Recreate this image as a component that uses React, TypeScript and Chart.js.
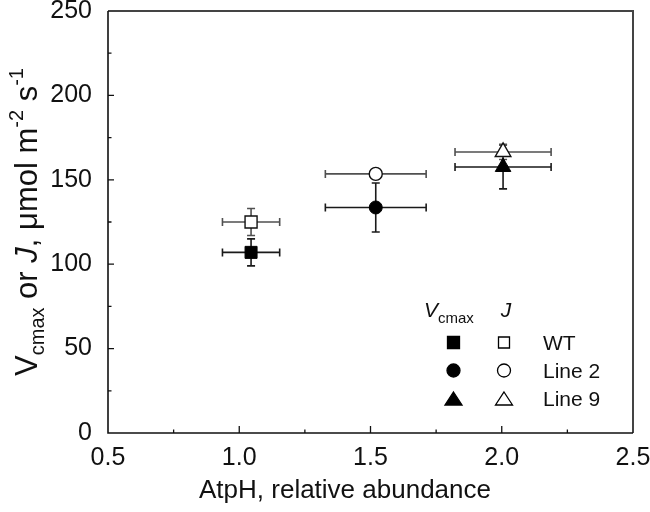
import React, { useEffect, useRef } from 'react';
import { Chart, registerables } from 'chart.js';

Chart.register(...registerables);

// ---- Data ----
const lineNames = ['WT', 'Line 2', 'Line 9'];
const atph = [1.045, 1.52, 2.005];
const atphErr = [0.109, 0.192, 0.183];
const vcmax = [107, 133.6, 157.6];
const vcmaxErr = [8, 14.5, 13];
const jRate = [125, 153.5, 166.5];
const jErr = [8, 3, 4.5];
const markerStyles = ['rect', 'circle', 'triangle'];
const markerRadii = [8.5, 6.5, 9];
const xMajorTicks = [0.5, 1.0, 1.5, 2.0, 2.5];
const yMajorTicks = [0, 50, 100, 150, 200, 250];

const FONT = '"Liberation Sans", Arial, sans-serif';

type Seg = { t: string; size: number; italic?: boolean; dy?: number };

function drawRich(ctx: CanvasRenderingContext2D, segs: Seg[], x: number, y: number, align: 'left' | 'center') {
  let total = 0;
  const widths = segs.map((s) => {
    ctx.font = `${s.italic ? 'italic ' : ''}${s.size}px ${FONT}`;
    const w = ctx.measureText(s.t).width;
    total += w;
    return w;
  });
  let cx = align === 'center' ? x - total / 2 : x;
  ctx.textBaseline = 'alphabetic';
  ctx.textAlign = 'left';
  segs.forEach((s, i) => {
    ctx.font = `${s.italic ? 'italic ' : ''}${s.size}px ${FONT}`;
    ctx.fillText(s.t, cx, y + (s.dy || 0));
    cx += widths[i];
  });
}

function drawMarker(ctx: CanvasRenderingContext2D, style: string, x: number, y: number, filled: boolean) {
  ctx.beginPath();
  if (style === 'rect') {
    const h = filled ? 6 : 5.5;
    ctx.rect(x - h, y - h, 2 * h, 2 * h);
  } else if (style === 'circle') {
    ctx.arc(x, y, 6.5, 0, Math.PI * 2);
  } else {
    ctx.moveTo(x, y - 6.5);
    ctx.lineTo(x + 8.5, y + 6.5);
    ctx.lineTo(x - 8.5, y + 6.5);
    ctx.closePath();
  }
  ctx.fillStyle = filled ? '#000' : '#fff';
  ctx.fill();
  ctx.lineWidth = 1.3;
  ctx.strokeStyle = '#000';
  ctx.stroke();
}

const errorBarPlugin = {
  id: 'errorBars',
  beforeDatasetsDraw(chart: any) {
    const ctx = chart.ctx as CanvasRenderingContext2D;
    const xs = chart.scales.x;
    const ys = chart.scales.y;
    const sets = [
      { y: vcmax, ye: vcmaxErr, color: '#1a1a1a' },
      { y: jRate, ye: jErr, color: '#505050' },
    ];
    sets.forEach((s) => {
      atph.forEach((xv, i) => {
        const px = xs.getPixelForValue(xv);
        const py = ys.getPixelForValue(s.y[i]);
        const x0 = xs.getPixelForValue(xv - atphErr[i]);
        const x1 = xs.getPixelForValue(xv + atphErr[i]);
        const y0 = ys.getPixelForValue(s.y[i] - s.ye[i]);
        const y1 = ys.getPixelForValue(s.y[i] + s.ye[i]);
        ctx.save();
        ctx.strokeStyle = s.color;
        ctx.lineWidth = 1.6;
        ctx.beginPath();
        ctx.moveTo(x0, py); ctx.lineTo(x1, py);
        ctx.moveTo(x0, py - 4); ctx.lineTo(x0, py + 4);
        ctx.moveTo(x1, py - 4); ctx.lineTo(x1, py + 4);
        ctx.moveTo(px, y0); ctx.lineTo(px, y1);
        ctx.moveTo(px - 4, y0); ctx.lineTo(px + 4, y0);
        ctx.moveTo(px - 4, y1); ctx.lineTo(px + 4, y1);
        ctx.stroke();
        ctx.restore();
      });
    });
  },
};

const framePlugin = {
  id: 'frameTicks',
  beforeDatasetsDraw(chart: any) {
    const ctx = chart.ctx as CanvasRenderingContext2D;
    const { left, right, top, bottom } = chart.chartArea;
    const xs = chart.scales.x;
    const ys = chart.scales.y;
    ctx.save();
    ctx.strokeStyle = '#444';
    ctx.lineWidth = 2;
    ctx.beginPath();
    ctx.moveTo(left, top); ctx.lineTo(right, top); ctx.lineTo(right, bottom);
    ctx.stroke();
    ctx.strokeStyle = '#111';
    ctx.lineWidth = 1.6;
    ctx.beginPath();
    ctx.moveTo(left, top); ctx.lineTo(left, bottom); ctx.lineTo(right, bottom);
    ctx.stroke();
    ctx.lineWidth = 1.3;
    ctx.beginPath();
    ys.ticks.forEach((t: any) => {
      const p = ys.getPixelForValue(t.value);
      const major = yMajorTicks.includes(t.value);
      if (t.value <= 0 || t.value >= 250) return;
      ctx.moveTo(left, p); ctx.lineTo(left + (major ? 6 : 3.5), p);
    });
    xs.ticks.forEach((t: any) => {
      const p = xs.getPixelForValue(t.value);
      const major = xMajorTicks.some((m) => Math.abs(m - t.value) < 1e-9);
      if (t.value <= 0.5 || t.value >= 2.5) return;
      ctx.moveTo(p, bottom); ctx.lineTo(p, bottom - (major ? 7 : 3.5));
    });
    ctx.stroke();
    ctx.restore();
  },
};

const annotationPlugin = {
  id: 'titlesLegend',
  afterDraw(chart: any) {
    const ctx = chart.ctx as CanvasRenderingContext2D;
    const { top, bottom } = chart.chartArea;
    ctx.save();
    ctx.fillStyle = '#111';
    // x-axis title
    drawRich(ctx, [{ t: 'AtpH, relative abundance', size: 26 }], 345, 498, 'center');
    // y-axis title
    ctx.save();
    ctx.translate(37, (top + bottom) / 2);
    ctx.rotate(-Math.PI / 2);
    drawRich(
      ctx,
      [
        { t: 'V', size: 31 },
        { t: 'cmax', size: 20, dy: 7 },
        { t: ' or ', size: 31 },
        { t: 'J', size: 31, italic: true },
        { t: ', μmol m', size: 31 },
        { t: '-2', size: 20, dy: -14 },
        { t: ' s', size: 31 },
        { t: '-1', size: 20, dy: -14 },
      ],
      0,
      0,
      'center'
    );
    ctx.restore();

    // legend
    ctx.fillStyle = '#111';
    drawRich(ctx, [{ t: 'V', size: 21, italic: true }, { t: 'cmax', size: 15, dy: 6 }], 424, 317, 'left');
    drawRich(ctx, [{ t: 'J', size: 21, italic: true }], 506, 317, 'center');
    const rowY = [342.5, 370.5, 398.5];
    lineNames.forEach((name, i) => {
      drawMarker(ctx, markerStyles[i], 453.5, rowY[i], true);
      drawMarker(ctx, markerStyles[i], 504, rowY[i], false);
      ctx.fillStyle = '#111';
      drawRich(ctx, [{ t: name, size: 21 }], 543, rowY[i] + 7.5, 'left');
    });
    ctx.restore();
  },
};

export default function App() {
  const ref = useRef<HTMLCanvasElement>(null);
  useEffect(() => {
    const canvas = ref.current!;
    const chart = new Chart(canvas, {
      type: 'scatter',
      data: {
        datasets: [
          {
            label: 'Vcmax',
            data: atph.map((x, i) => ({ x, y: vcmax[i] })),
            pointStyle: markerStyles as any,
            pointRadius: markerRadii,
            pointBackgroundColor: '#000',
            pointBorderColor: '#000',
            pointBorderWidth: 1,
          },
          {
            label: 'J',
            data: atph.map((x, i) => ({ x, y: jRate[i] })),
            pointStyle: markerStyles as any,
            pointRadius: markerRadii,
            pointBackgroundColor: '#fff',
            pointBorderColor: '#111',
            pointBorderWidth: 1.4,
          },
        ],
      },
      options: {
        responsive: false,
        animation: false,
        devicePixelRatio: 1,
        layout: { padding: { left: 0, top: 11, right: 17, bottom: 0 } },
        plugins: { legend: { display: false }, tooltip: { enabled: false } },
        scales: {
          x: {
            type: 'linear',
            min: 0.5,
            max: 2.5,
            border: { display: false },
            grid: { display: false, drawTicks: false },
            ticks: {
              stepSize: 0.25,
              autoSkip: false,
              maxRotation: 0,
              padding: 10,
              color: '#111',
              font: { family: FONT, size: 25 },
              callback: (v: any) =>
                xMajorTicks.some((m) => Math.abs(m - Number(v)) < 1e-9) ? Number(v).toFixed(1) : '',
            },
            afterFit: (s: any) => {
              s.height = 79;
              s.paddingLeft = 0;
              s.paddingRight = 0;
            },
          },
          y: {
            type: 'linear',
            min: 0,
            max: 250,
            border: { display: false },
            grid: { display: false, drawTicks: false },
            ticks: {
              stepSize: 25,
              autoSkip: false,
              padding: 16,
              color: '#111',
              font: { family: FONT, size: 25 },
              callback: (v: any) => (yMajorTicks.includes(Number(v)) ? String(v) : ''),
            },
            afterFit: (s: any) => {
              s.width = 108;
              s.paddingTop = 0;
              s.paddingBottom = 0;
            },
          },
        },
      },
      plugins: [framePlugin, errorBarPlugin, annotationPlugin],
    });
    return () => chart.destroy();
  }, []);
  return (
    <canvas
      ref={ref}
      width={650}
      height={512}
      style={{ position: 'absolute', left: 0, top: 0, width: 650, height: 512 }}
    />
  );
}
